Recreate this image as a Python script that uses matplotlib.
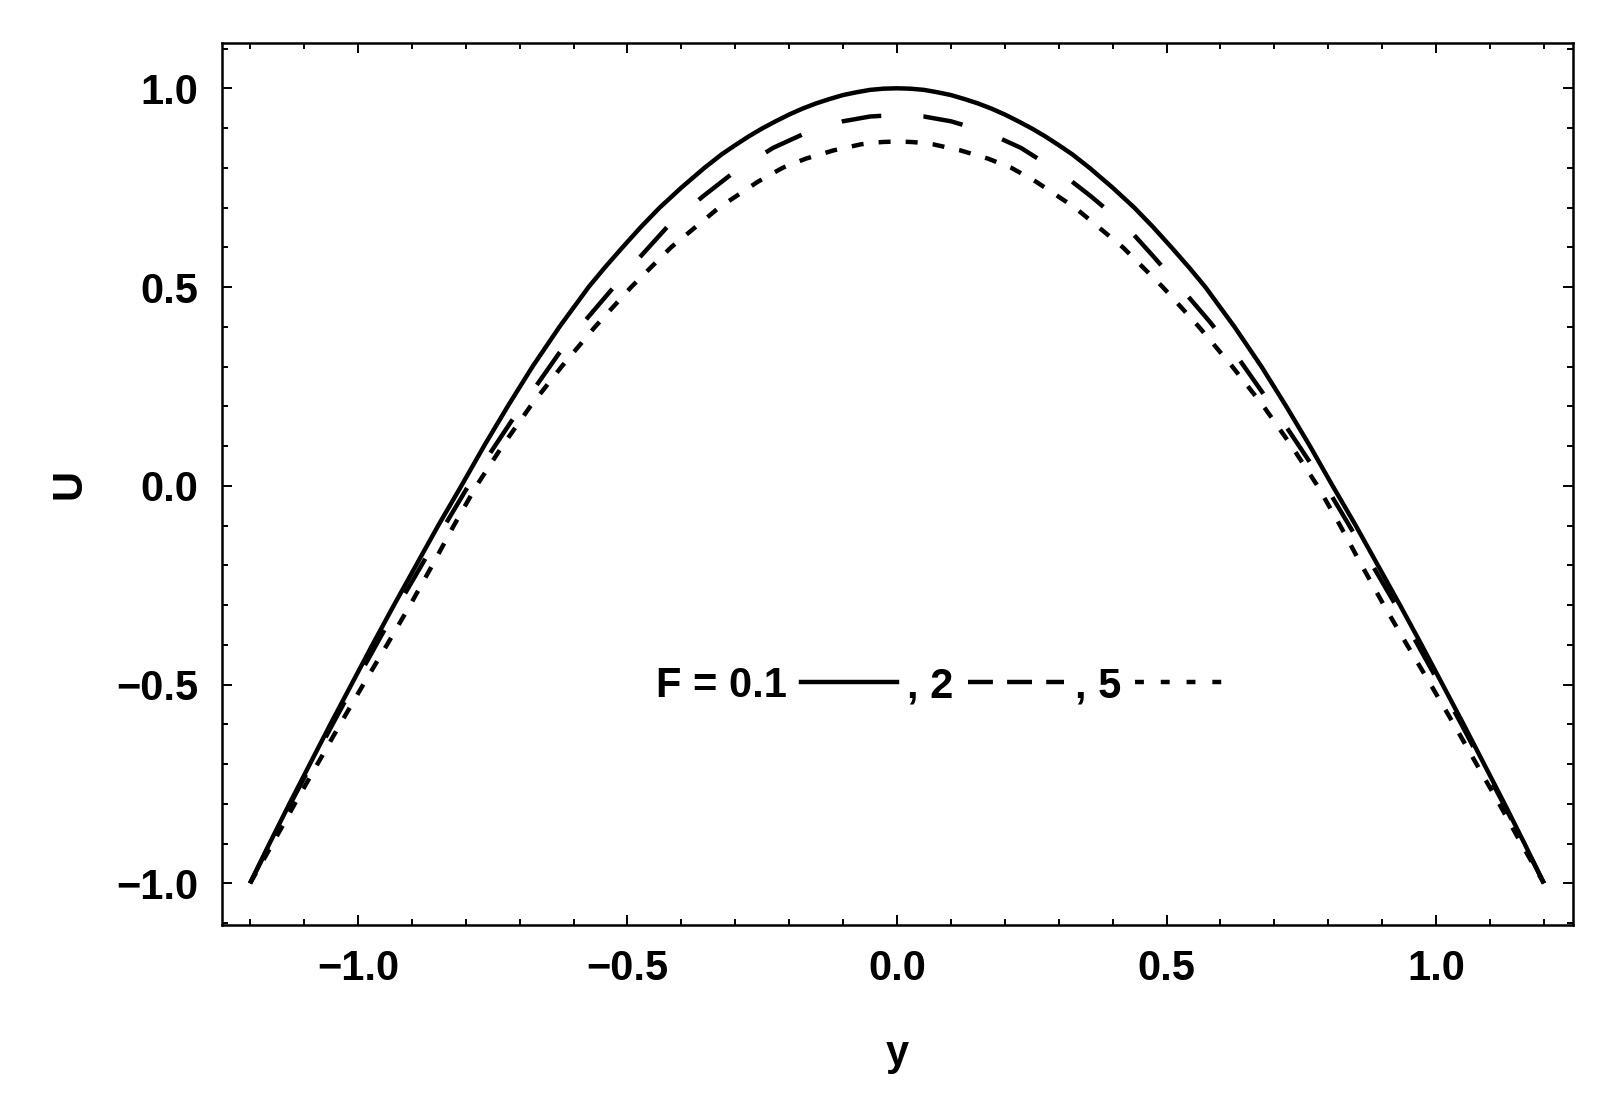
import numpy as np
import matplotlib
matplotlib.use("Agg")
import matplotlib.pyplot as plt
from matplotlib.lines import Line2D

plt.rcParams['font.family'] = ['Liberation Sans', 'DejaVu Sans']
plt.rcParams['font.weight'] = 'bold'

# values (left half, mirrored to the right)
y_solid_left = [-1.2, -1.164, -1.127, -1.089, -1.051, -1.012, -0.973, -0.933, -0.892, -0.851,
                -0.808, -0.766, -0.722, -0.676, -0.626, -0.572, -0.542, -0.509, -0.475, -0.44,
                -0.4, -0.357, -0.325, -0.3, -0.275, -0.25, -0.225, -0.2, -0.175, -0.15,
                -0.125, -0.1, -0.075, -0.05, -0.025, 0.0]
U_solid_left = [-1.0, -0.9, -0.8, -0.7, -0.6, -0.5, -0.4, -0.3, -0.2, -0.1,
                0.0, 0.1, 0.2, 0.3, 0.4, 0.5, 0.549, 0.6, 0.651, 0.7,
                0.75, 0.8, 0.834, 0.857, 0.879, 0.899, 0.917, 0.934, 0.949, 0.962,
                0.973, 0.983, 0.99, 0.996, 0.999, 1.0]

y_dash_left = [-1.2, -1.163, -1.125, -1.086, -1.047, -1.007, -0.966, -0.925, -0.882, -0.839,
               -0.795, -0.714, -0.67, -0.627, -0.58, -0.529, -0.475, -0.423, -0.36, -0.307,
               -0.23, -0.175, -0.15, -0.1, -0.05, 0.0]
U_dash_left = [-1.0, -0.9, -0.8, -0.7, -0.6, -0.5, -0.4, -0.3, -0.2, -0.1,
               0.0, 0.165, 0.25, 0.333, 0.413, 0.494, 0.578, 0.656, 0.728, 0.784,
               0.85, 0.884, 0.897, 0.917, 0.929, 0.933]

y_dot_left = [-1.2, -1.158, -1.117, -1.075, -1.033, -0.99, -0.946, -0.903, -0.862, -0.822,
              -0.78, -0.732, -0.68, -0.622, -0.56, -0.493, -0.419, -0.33, -0.258, -0.212,
              -0.169, -0.117, -0.067, -0.045, -0.025, 0.0]
U_dot_left = [-1.0, -0.9, -0.8, -0.7, -0.6, -0.5, -0.4, -0.3, -0.2, -0.1,
              0.0, 0.1, 0.2, 0.3, 0.4, 0.5, 0.6, 0.7, 0.765, 0.8,
              0.823, 0.844, 0.859, 0.863, 0.865, 0.866]

labels = ["F = 0.1", ", 2", ", 5"]


def full(yl, ul):
    yl = np.array(yl)
    ul = np.array(ul)
    return np.concatenate([yl, -yl[-2::-1]]), np.concatenate([ul, ul[-2::-1]])


fig = plt.figure(figsize=(16.17, 11.16), dpi=100)
ax = fig.add_axes([0.1373, 0.1711, 0.8355, 0.7904])

lw = 3.2
ys, us = full(y_solid_left, U_solid_left)
ax.plot(ys, us, color='k', lw=lw, solid_capstyle='butt', solid_joinstyle='round')
yd, ud = full(y_dash_left, U_dash_left)
ax.plot(yd, ud, color='k', lw=lw, dashes=(9, 9.5))
yo, uo = full(y_dot_left, U_dot_left)
ax.plot(yo, uo, color='k', lw=lw, dashes=(2.7, 3.4))

ax.set_xlim(-1.252, 1.254)
ax.set_ylim(-1.105, 1.114)

ax.set_xticks([-1.0, -0.5, 0.0, 0.5, 1.0])
ax.set_yticks([-1.0, -0.5, 0.0, 0.5, 1.0])
ax.set_xticks(np.round(np.arange(-1.2, 1.21, 0.1), 1), minor=True)
ax.set_yticks(np.round(np.arange(-1.1, 1.11, 0.1), 1), minor=True)
ax.set_xticklabels(["\u22121.0", "\u22120.5", "0.0", "0.5", "1.0"])
ax.set_yticklabels(["\u22121.0", "\u22120.5", "0.0", "0.5", "1.0"])

ax.tick_params(which='both', direction='in', top=True, right=True, width=1.4,
               labelsize=30, pad=17, colors='k')
ax.tick_params(which='major', length=7.5)
ax.tick_params(which='minor', length=4.5)
for sp in ax.spines.values():
    sp.set_linewidth(1.8)

ax.set_xlabel("y", fontsize=30, fontweight='bold')
ax.set_ylabel("U", fontsize=30, fontweight='bold')
ax.xaxis.set_label_coords(0.5, -0.146)
ax.xaxis.label.set_verticalalignment('center')
ax.yaxis.set_label_coords(-0.113, 0.5)
ax.yaxis.label.set_verticalalignment('center')

handles = [Line2D([], [], color='k', lw=lw),
           Line2D([], [], color='k', lw=lw, dashes=(5.6, 3.2)),
           Line2D([], [], color='k', lw=lw, dashes=(2.0, 3.8))]
ax.legend(handles, labels, loc='center', bbox_to_anchor=(0.534, 0.271), ncol=3,
          markerfirst=False, frameon=False, fontsize=30, handlelength=2.3,
          handletextpad=0.35, columnspacing=0.25, borderpad=0, borderaxespad=0)

fig.savefig("out.png", dpi=100)
